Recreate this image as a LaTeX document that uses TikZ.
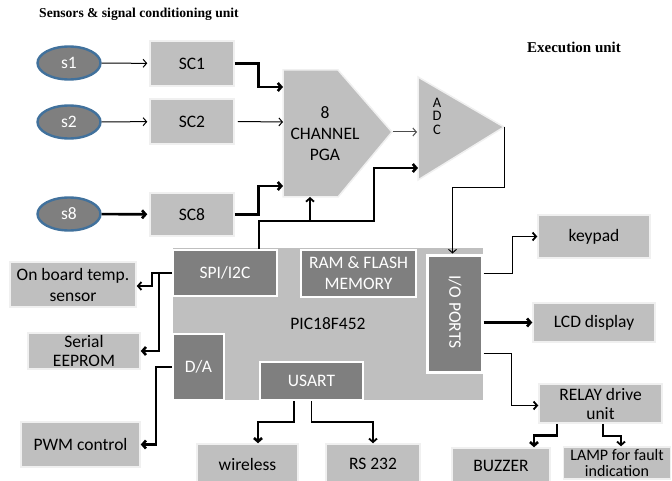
\documentclass[tikz,border=0pt]{standalone}
\usepackage{fontspec}
\setmainfont{Carlito}
\newfontfamily\titlefont{Liberation Serif}
\usetikzlibrary{arrows.meta,shapes.geometric}
\definecolor{lgrey}{HTML}{BFBFBF}
\definecolor{dgrey}{HTML}{7F7F7F}
\definecolor{sblue}{HTML}{41719C}
\newcommand\boxfont{\fontsize{17.5}{21}\selectfont}
\begin{document}
\begin{tikzpicture}[x=1pt,y=-1pt,
  lbox/.style={fill=lgrey, draw=gray!12, line width=1.5pt, inner sep=0pt, align=center, font=\boxfont},
  dbox/.style={fill=dgrey, draw=white, line width=2pt, inner sep=0pt, align=center, text=white, font=\boxfont},
  sens/.style={ellipse, fill=dgrey, draw=sblue, line width=2.4pt, minimum width=63pt, minimum height=33pt, inner sep=0pt, text=white, font=\boxfont},
  wire/.style={-{Straight Barb[length=3.5pt,width=8pt]}, line width=1pt},
  mid/.style={-{Straight Barb[length=3.5pt,width=8pt]}, line width=1.8pt},
  fat/.style={-{Straight Barb[length=3.5pt,width=8pt]}, line width=2.6pt}
]
\useasboundingbox (0,0) rectangle (672,481);

% titles
\node[font=\titlefont\bfseries\fontsize{13.6}{15}\selectfont] (t1) at (139,14) {Sensors \& signal conditioning unit};
\node[font=\titlefont\bfseries\fontsize{15}{17}\selectfont] (t2) at (574,47) {Execution unit};

% sensors
\node[sens] (s1) at (69,63) {s1};
\node[sens] (s2) at (69,122) {s2};
\node[sens] (s8) at (69,214) {s8};

% signal conditioning
\node[lbox, minimum width=84pt, minimum height=45pt] (sc1) at (192,63.5) {SC1};
\node[lbox, minimum width=84pt, minimum height=45pt] (sc2) at (192,121.5) {SC2};
\node[lbox, minimum width=84pt, minimum height=43pt] (sc8) at (192,214.5) {SC8};

% PGA
\filldraw[fill=lgrey, draw=gray!12, line width=1.5pt] (283,70) -- (338,70) -- (392,132) -- (338,197) -- (283,197) -- cycle;
\node[font=\boxfont, align=center] (pga) at (325,134) {8\\CHANNEL\\PGA};
\coordinate (pgain1) at (283,87);
\coordinate (pgain2) at (283,122);
\coordinate (pgain8) at (283,186);
\coordinate (pgabot) at (310,197);
\coordinate (pgaout) at (393,132);

% ADC
\filldraw[fill=lgrey, draw=gray!12, line width=1.5pt] (418,77) -- (504,127) -- (418,180) -- cycle;
\node[font=\fontsize{14.5}{13.5}\selectfont, align=center] (adc) at (437,116) {A\\D\\C};
\coordinate (adcin) at (417,132);
\coordinate (adcbus) at (418,168);
\coordinate (adcout) at (504,127);

% PIC
\node[lbox, draw=none, minimum width=310pt, minimum height=152pt] (pic) at (328,324) {PIC18F452};
\node[dbox, minimum width=104pt, minimum height=46pt] (spi) at (225,273) {SPI/I2C};
\node[dbox, minimum width=115pt, minimum height=47pt] (ram) at (358.5,273.5) {RAM \& FLASH\\MEMORY};
\node[dbox, line width=3pt, minimum width=55pt, minimum height=117pt] (io) at (454.5,313.5) {};
\node[text=white, font=\boxfont, rotate=-90] (iot) at (455,312) {I/O PORTS};
\node[dbox, minimum width=51pt, minimum height=66pt] (da) at (198.5,367) {D/A};
\node[dbox, minimum width=103pt, minimum height=38pt] (usart) at (311.5,381) {USART};
\coordinate (busj) at (310,222);

% peripherals left
\node[lbox, minimum width=126pt, minimum height=45pt] (temp) at (73,284.5) {On board temp.\\sensor};
\node[lbox, minimum width=112pt, minimum height=36pt, font=\fontsize{17.5}{19}\selectfont] (eep) at (84,351) {Serial\\EEPROM};
\node[lbox, minimum width=119pt, minimum height=45pt] (pwm) at (80.5,444.5) {PWM control};
\node[lbox, minimum width=101pt, minimum height=40pt] (wireless) at (247.5,464) {wireless};
\node[lbox, minimum width=94pt, minimum height=40pt] (rs) at (373,464) {RS 232};

% peripherals right
\node[lbox, minimum width=112pt, minimum height=43pt] (keypad) at (594,236.5) {keypad};
\node[lbox, minimum width=122pt, minimum height=39pt] (lcd) at (594,322.5) {LCD display};
\node[lbox, minimum width=123pt, minimum height=39pt, font=\fontsize{17.5}{19}\selectfont] (relay) at (600.5,403.5) {RELAY drive\\unit};
\node[lbox, minimum width=98pt, minimum height=36pt] (buzzer) at (501,466) {BUZZER};
\node[lbox, minimum width=107pt, minimum height=32pt, font=\fontsize{16}{16.5}\selectfont] (lamp) at (617,463) {LAMP for fault\\indication};

% connectors: sensors
\draw[wire, shorten >=2pt] (s1) -- (sc1);
\draw[wire, shorten >=2pt] (s2) -- (sc2);
\draw[fat, shorten >=2pt] (s8) -- (sc8);
\draw[fat] (sc1.east) -- ++(24,0) |- (pgain1);
\draw[wire] ([xshift=3pt]sc2.east) -- (pgain2);
\draw[fat] (sc8.east) -- ++(24,0) |- (pgain8);
\draw[fat] ([xshift=-19pt]spi.north east) -- ++(0,-28) -- ++(115,0) |- (adcbus);
\draw[mid] (busj) -- (pgabot);
\draw[wire, draw=black!70] (pgaout) -- (adcin);
\draw[wire] (adcout) -- ++(0,61) -| ([xshift=-2pt]io.north);

% connectors: right
\draw[mid] ([yshift=40pt]io.east) -- ++(29,0) |- (keypad.west);
\draw[fat] (io.east |- lcd.west) -- (lcd.west);
\draw[mid] ([yshift=-40pt]io.east) -- ++(28,0) |- ([yshift=-2pt]relay.west);
\draw[fat] ([xshift=-43.5pt]relay.south) -- ++(0,12) -| ([xshift=33pt]buzzer.north);
\draw[mid] ([xshift=2.5pt]relay.south) -- ++(0,12) -| ([xshift=4pt]lamp.north);

% connectors: left and bottom
\draw[mid] (spi.west) -- ++(-20,0) |- ([yshift=-1.5pt]temp.east);
\draw[fat] (spi.west) -- ++(-13,0) |- (eep.east);
\draw[fat] (da.west) -- ++(-16,0) |- (pwm.east);
\draw[fat] ([xshift=-17.5pt]usart.south) -- ++(0,21) -| ([xshift=10.5pt]wireless.north);
\draw[mid] (usart.south) -- ++(0,21) -| (rs.north);
\end{tikzpicture}
\end{document}
